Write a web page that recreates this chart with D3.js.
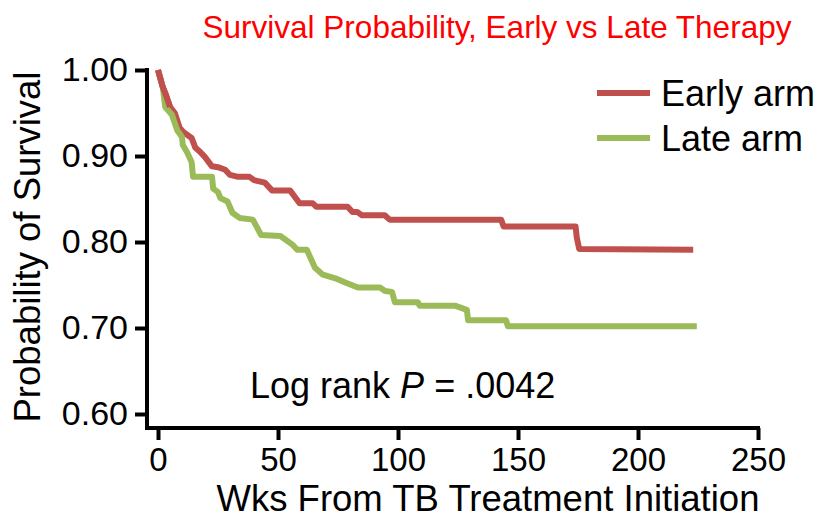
<!DOCTYPE html>
<html>
<head>
<meta charset="utf-8">
<script src="https://cdn.jsdelivr.net/npm/d3@7"></script>
<style>
  body { margin: 0; background: #fff; }
  text { font-family: "Liberation Sans", Arial, sans-serif; }
</style>
</head>
<body>
<div id="chart"></div>
<script>
// Kaplan-Meier points: [weeks, survival]
const earlyArm = [
  [0, 1.000], [2, 0.980], [3.3, 0.971], [5, 0.957], [7, 0.950], [9, 0.933],
  [10.5, 0.928], [14, 0.921], [15.5, 0.910], [17.5, 0.905], [19.5, 0.899],
  [22.5, 0.888], [25, 0.887], [28, 0.884], [30, 0.878], [33, 0.876], [38, 0.876],
  [40, 0.872], [44.5, 0.869], [47.5, 0.860], [55, 0.860], [59, 0.845], [64.5, 0.845],
  [66, 0.841], [79, 0.841], [81, 0.835], [83, 0.835], [85, 0.831], [94.5, 0.831],
  [96.5, 0.826], [143, 0.826], [144, 0.818], [174, 0.818], [174.5, 0.805],
  [175.5, 0.792], [223, 0.791]
];
const lateArm = [
  [0, 1.000], [2, 0.980], [3, 0.957], [5.8, 0.948], [8, 0.930], [10, 0.922],
  [10.3, 0.913], [12, 0.905], [14, 0.893], [14.6, 0.876], [22.5, 0.876],
  [23, 0.862], [25, 0.858], [26, 0.851], [29, 0.847], [31, 0.834], [34, 0.828],
  [39.5, 0.826], [43, 0.808], [51, 0.807], [56, 0.797], [58, 0.791], [62, 0.791],
  [65.4, 0.770], [68.7, 0.762], [74.6, 0.757], [78, 0.753], [83.3, 0.747],
  [92.5, 0.747], [94.6, 0.743], [97.5, 0.742], [98.7, 0.730], [108.3, 0.730],
  [109, 0.726], [123.7, 0.726], [128.7, 0.721], [129.2, 0.709], [145, 0.709],
  [145.8, 0.702], [224.5, 0.702]
];
const xTicks = [0, 50, 100, 150, 200, 250];
const yTicks = [0.60, 0.70, 0.80, 0.90, 1.00];
const seriesNames = ["Early arm", "Late arm"];
const seriesColors = ["#c0504d", "#9bbb59"];

const width = 823, height = 518;
const axisX = 147, axisY = 428;

const svg = d3.select("#chart")
  .append("svg")
  .attr("width", width)
  .attr("height", height);

const x = d3.scaleLinear().domain([0, 250]).range([158, 758]);
const y = d3.scaleLinear().domain([0.6, 1]).range([414, 70]);

// title
svg.append("text")
  .attr("x", 497)
  .attr("y", 38)
  .attr("text-anchor", "middle")
  .attr("fill", "#ff0000")
  .style("font-size", "31.5px")
  .text("Survival Probability, Early vs Late Therapy");

// Y axis
const yAxis = svg.append("g")
  .attr("transform", `translate(${axisX},0)`)
  .call(d3.axisLeft(y).tickValues(yTicks).tickFormat(d3.format(".2f"))
    .tickSize(12).tickPadding(7).tickSizeOuter(0));
yAxis.select(".domain").remove();
yAxis.selectAll(".tick line").attr("stroke", "#000").attr("stroke-width", 4);
yAxis.selectAll(".tick text").style("font-size", "34px").attr("fill", "#000");
svg.append("line")
  .attr("x1", axisX).attr("x2", axisX)
  .attr("y1", y(1) - 2).attr("y2", axisY + 2)
  .attr("stroke", "#000").attr("stroke-width", 4);

// X axis
const xAxis = svg.append("g")
  .attr("transform", `translate(0,${axisY})`)
  .call(d3.axisBottom(x).tickValues(xTicks).tickSize(12).tickPadding(8).tickSizeOuter(0));
xAxis.select(".domain").remove();
xAxis.selectAll(".tick line").attr("stroke", "#000").attr("stroke-width", 4);
xAxis.selectAll(".tick text").style("font-size", "33px").attr("fill", "#000");
svg.append("line")
  .attr("x1", axisX - 2).attr("x2", x(250) + 2)
  .attr("y1", axisY).attr("y2", axisY)
  .attr("stroke", "#000").attr("stroke-width", 4);

// axis titles
svg.append("text")
  .attr("x", 488)
  .attr("y", 511)
  .attr("text-anchor", "middle")
  .style("font-size", "36.5px")
  .text("Wks From TB Treatment Initiation");

svg.append("text")
  .attr("transform", "translate(40,247) rotate(-90)")
  .attr("text-anchor", "middle")
  .style("font-size", "36.5px")
  .text("Probability of Survival");

// curves
const line = d3.line().x(d => x(d[0])).y(d => y(d[1]));
[earlyArm, lateArm].forEach((s, i) => {
  svg.append("path")
    .datum(s)
    .attr("fill", "none")
    .attr("stroke", seriesColors[i])
    .attr("stroke-width", 6)
    .attr("stroke-linejoin", "round")
    .attr("d", line);
});
// redraw early on top at the start, like the reference
svg.append("path")
  .datum(earlyArm.slice(0, 4))
  .attr("fill", "none")
  .attr("stroke", seriesColors[0])
  .attr("stroke-width", 6)
  .attr("stroke-linejoin", "round")
  .attr("d", line);

// legend
const legend = svg.append("g");
seriesNames.forEach((name, i) => {
  const ly = 93 + i * 45;
  legend.append("line")
    .attr("x1", 597).attr("x2", 650)
    .attr("y1", ly).attr("y2", ly)
    .attr("stroke", seriesColors[i])
    .attr("stroke-width", 6);
  legend.append("text")
    .attr("x", 661)
    .attr("y", ly + 13)
    .style("font-size", "36px")
    .text(name);
});

// log rank annotation
const lr = svg.append("text")
  .attr("x", 250)
  .attr("y", 398)
  .style("font-size", "36px");
lr.append("tspan").text("Log rank ");
lr.append("tspan").style("font-style", "italic").text("P");
lr.append("tspan").text(" = .0042");
</script>
</body>
</html>
